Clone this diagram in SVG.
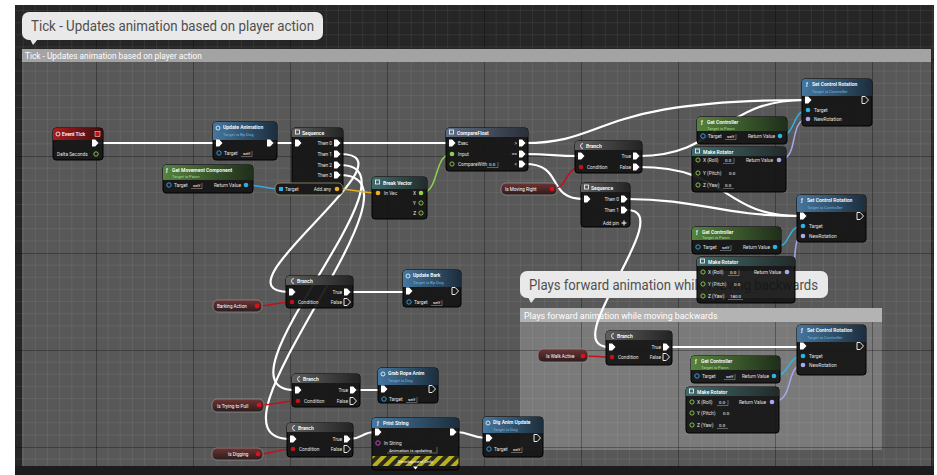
<svg xmlns="http://www.w3.org/2000/svg" xmlns:xlink="http://www.w3.org/1999/xlink" width="937" height="475" viewBox="0 0 937 475">
<defs>
<style>
.body{fill:#141414;fill-opacity:.93;stroke:#000;stroke-width:1}
.t{font-family:Roboto,'Liberation Sans',sans-serif;font-size:5px;font-weight:600;fill:#fff}
.s{font-family:Roboto,'Liberation Sans',sans-serif;font-size:4.2px;fill:#7fb0d8}
.sg{font-family:Roboto,'Liberation Sans',sans-serif;font-size:4.2px;fill:#a8d890}
.p{font-family:Roboto,'Liberation Sans',sans-serif;font-size:4.8px;fill:#e2e2e2}
.e{text-anchor:end}
.v{font-family:Roboto,'Liberation Sans',sans-serif;font-size:4.4px;fill:#fff}
.vb{fill:none;stroke:#aaa;stroke-width:.5}
.ef{fill:#fff}
.eo{fill:none;stroke:#fff;stroke-width:.9}
.w{fill:none;stroke:#fff;stroke-width:2.2;stroke-linecap:round}
.d{fill:none;stroke-width:1.5}
.ic{fill:none;stroke:#fff;stroke-width:.8}
.pill{fill:url(#gVar);stroke:#8e8e8e;stroke-width:.8}
.pt{font-family:Roboto,'Liberation Sans',sans-serif;font-size:4.6px;fill:#fff}
.ct{font-family:Roboto,'Liberation Sans',sans-serif;fill:#fff}
.bt{font-family:Roboto,'Liberation Sans',sans-serif;fill:#4f4f4f}
</style>
<path id="ex" d="M-3,-3.5h3.2l3.3,3.5l-3.3,3.5h-3.2z"/>
<linearGradient id="gRed" x1="0" x2="1"><stop offset="0" stop-color="#a81e1e"/><stop offset="1" stop-color="#3a0c0c"/></linearGradient>
<linearGradient id="gBlue" x1="0" x2="1"><stop offset="0" stop-color="#4477a0"/><stop offset="1" stop-color="#1c2d3c"/></linearGradient>
<linearGradient id="gGreen" x1="0" x2="1"><stop offset="0" stop-color="#55833e"/><stop offset="1" stop-color="#1f2e1a"/></linearGradient>
<linearGradient id="gGray" x1="0" x2="1"><stop offset="0" stop-color="#5e5e5e"/><stop offset="1" stop-color="#232323"/></linearGradient>
<linearGradient id="gTeal" x1="0" x2="1"><stop offset="0" stop-color="#3f6a6a"/><stop offset="1" stop-color="#222a2a"/></linearGradient>
<linearGradient id="gCmp" x1="0" x2="1"><stop offset="0" stop-color="#5d6d85"/><stop offset="1" stop-color="#2a2f38"/></linearGradient>
<linearGradient id="gVar" x1="0" x2="0" y1="0" y2="1"><stop offset="0" stop-color="#6e3434"/><stop offset="1" stop-color="#2a1c1c"/></linearGradient>
<pattern id="grid" x="96" y="59" width="97" height="97" patternUnits="userSpaceOnUse">
<path d="M12.125,0V97M24.25,0V97M36.375,0V97M48.5,0V97M60.625,0V97M72.75,0V97M84.875,0V97M0,12.125H97M0,24.25H97M0,36.375H97M0,48.5H97M0,60.625H97M0,72.75H97M0,84.875H97" stroke="#fff" stroke-opacity=".06" stroke-width="1"/>
<path d="M0.5,0V97M0,0.5H97" stroke="#000" stroke-opacity=".3" stroke-width="1"/>
</pattern>
<pattern id="stripe" width="8" height="8" patternUnits="userSpaceOnUse" patternTransform="rotate(45)">
<rect width="8" height="8" fill="#2a2a1a"/><rect width="4" height="8" fill="#b8b020"/>
</pattern>
</defs>

<g id="canvas">
<rect width="937" height="475" fill="#fff"/>
<rect x="15" y="5" width="919" height="470" fill="#262626"/>
<rect x="22" y="49" width="909" height="417" fill="#585858"/>
<rect x="520" y="308" width="362" height="142" fill="#7a7a7a"/>
<rect x="15" y="5" width="919" height="470" fill="url(#grid)"/>
<rect x="15" y="466" width="919" height="9" fill="#1c1c1c"/>
</g>

<g id="comment-tick">
<rect x="22" y="49" width="909" height="13" fill="#a3a3a3"/>
<text x="25" y="58.5" class="ct" font-size="8.3">Tick - Updates animation based on player action</text>
<path d="M30,39 L38,39 L33,45Z" fill="#e9e9e9"/>
<rect x="22" y="12" width="301" height="28" rx="7" fill="#e9e9e9"/>
<text x="31" y="31" class="bt" font-size="15" textLength="283" lengthAdjust="spacingAndGlyphs">Tick - Updates animation based on player action</text>
</g>

<g id="comment-backwards-box">
<rect x="520" y="308" width="362" height="14" fill="#b3b3b3"/>
<text x="524" y="318.5" class="ct" font-size="8.8">Plays forward animation while moving backwards</text>
</g>

<g id="connectors">
<path class="w" d="M98,143H216"/>
<path class="w" d="M273,143H295"/>
<path class="w" d="M340,143H449"/>
<path class="w" d="M525,143C610,143 590,100 805,100"/>
<path class="w" d="M525,154C550,154 555,156 578,156"/>
<path class="w" d="M525,164C565,164 545,199 584,199"/>
<path class="w" d="M639,156C720,156 720,100 805,100"/>
<path class="w" d="M639,167C730,167 720,216 800,216"/>
<path class="w" d="M627,199C700,199 720,216 800,216"/>
<path class="w" d="M627,210C680,210 555,347 609,347"/>
<path class="w" d="M340,154C420,154 209,292 289,292"/>
<path class="w" d="M340,165C430,165 205,390 295,390"/>
<path class="w" d="M340,175C440,175 190,439 290,439"/>
<path class="w" d="M350,292H406"/>
<path class="w" d="M356,390H381"/>
<path class="w" d="M350,439C362,439 362,432 375,432"/>
<path class="w" d="M456,432C470,432 472,438 486,438"/>
<path class="w" d="M669,347H800"/>
<path class="d" stroke="#35a9e6" d="M246,185C262,185 265,189 281,189"/>
<path class="d" stroke="#e8b020" d="M337,189C355,189 360,193 378,193"/>
<path class="d" stroke="#8ed14a" d="M421,193C440,193 433,154 452,154"/>
<path class="d" stroke="#c0121b" d="M552,189C568,189 565,167 581,167"/>
<path class="d" stroke="#c0121b" d="M257,306C275,306 274,302 292,302"/>
<path class="d" stroke="#c0121b" d="M259,405C278,405 279,401 298,401"/>
<path class="d" stroke="#c0121b" d="M258,454C276,454 275,449 293,449"/>
<path class="d" stroke="#c0121b" d="M583,356C597,356 598,357 612,357"/>
<path class="d" stroke="#2cb4e4" d="M780,136C796,136 792,110 808,110"/>
<path class="d" stroke="#a8a8f0" d="M779,160C800,160 788,119 808,119"/>
<path class="d" stroke="#2cb4e4" d="M775,247C792,247 786,226 803,226"/>
<path class="d" stroke="#a8a8f0" d="M787,272C800,272 790,236 803,236"/>
<path class="d" stroke="#2cb4e4" d="M774,376C790,376 787,356 803,356"/>
<path class="d" stroke="#a8a8f0" d="M772,402C795,402 785,365 803,365"/>
</g>

<g id="comment-backwards-bubble">
<path d="M528,297 L536,297 L531,303Z" fill="#e9e9e9"/>
<rect x="520" y="271" width="308" height="27" rx="7" fill="#e9e9e9"/>
<text x="529" y="290" class="bt" font-size="14" textLength="289" lengthAdjust="spacingAndGlyphs">Plays forward animation while moving backwards</text>
</g>

<g id="n-event-tick">
<rect x="53" y="128" width="50" height="32" rx="3" class="body"/>
<path d="M53,140V131Q53,128 56,128H100Q103,128 103,131V140Z" fill="url(#gRed)"/>
<circle cx="58" cy="134" r="2" class="ic"/>
<text x="62" y="136" class="t">Event Tick</text>
<rect x="95" y="131.5" width="5" height="5" fill="#c01010" stroke="#fff" stroke-width=".5"/>
<use href="#ex" x="95" y="143" class="ef"/>
<text x="57" y="156" class="p">Delta Seconds</text>
<circle cx="96" cy="154" r="2.2" fill="none" stroke="#8ed14a" stroke-width=".9"/>
</g>

<g id="n-update-animation">
<rect x="213" y="122" width="64" height="38" rx="3" class="body"/>
<path d="M213,140V125Q213,122 216,122H274Q277,122 277,125V140Z" fill="url(#gBlue)"/>
<circle cx="218" cy="128" r="2" class="ic"/>
<text x="223" y="129" class="t">Update Animation</text>
<text x="223" y="136" class="s">Target is Bp Dog</text>
<use href="#ex" x="219" y="143" class="ef"/>
<use href="#ex" x="270" y="143" class="ef"/>
<circle cx="219" cy="153" r="2.2" fill="none" stroke="#35a9e6" stroke-width=".9"/>
<text x="224" y="155" class="p">Target</text>
<text x="243" y="155" class="v">self</text><path class="vb" d="M241,156.5H252V151"/>
</g>

<g id="n-sequence-1">
<rect x="292" y="128" width="51" height="62" rx="3" class="body"/>
<path d="M292,137V131Q292,128 295,128H340Q343,128 343,131V137Z" fill="url(#gGray)"/>
<rect x="295.5" y="130" width="4" height="4" class="ic"/>
<text x="302" y="134.5" class="t">Sequence</text>
<use href="#ex" x="298" y="143" class="ef"/>
<text x="332" y="145" class="p e">Then 0</text><use href="#ex" x="337" y="143" class="ef"/>
<text x="332" y="156" class="p e">Then 1</text><use href="#ex" x="337" y="154" class="ef"/>
<text x="332" y="167" class="p e">Then 2</text><use href="#ex" x="337" y="165" class="ef"/>
<text x="332" y="177" class="p e">Then 3</text><use href="#ex" x="337" y="175" class="ef"/>
</g>

<g id="n-get-movement-component">
<rect x="163" y="165" width="90" height="28" rx="3" class="body"/>
<path d="M163,180V168Q163,165 166,165H250Q253,165 253,168V180Z" fill="url(#gGreen)"/>
<text x="166" y="171.5" class="t">ƒ</text>
<text x="172" y="171.5" class="t">Get Movement Component</text>
<text x="172" y="177.5" class="sg">Target is Pawn</text>
<circle cx="169" cy="185" r="2.2" fill="none" stroke="#35a9e6" stroke-width=".9"/>
<text x="174" y="187" class="p">Target</text>
<text x="193" y="187" class="v">self</text><path class="vb" d="M191,188.5H202V183"/>
<text x="241" y="187" class="p e">Return Value</text>
<circle cx="246" cy="185" r="2.3" fill="#35a9e6"/>
</g>

<g id="n-get-velocity">
<rect x="275" y="183" width="68" height="12" rx="5" fill="#1a1a1a" stroke="#9a9070" stroke-width=".8"/>
<rect x="279" y="187" width="4" height="4" fill="#35a9e6"/>
<text x="285" y="191" class="p">Target</text>
<text x="331" y="191" class="p e">Add.any</text>
<circle cx="337" cy="189" r="2.3" fill="#e8b020"/>
</g>

<g id="n-break-vector">
<rect x="372" y="177" width="55" height="42" rx="3" class="body"/>
<path d="M372,189V180Q372,177 375,177H424Q427,177 427,180V189Z" fill="url(#gTeal)"/>
<rect x="375.5" y="180" width="4" height="4" class="ic"/>
<text x="383" y="185" class="t">Break Vector</text>
<circle cx="378" cy="193" r="2.3" fill="#e8b020"/>
<text x="384" y="195" class="p">In Vec</text>
<text x="416" y="195" class="p e">X</text><circle cx="421" cy="193" r="2.3" fill="#8ed14a"/>
<text x="416" y="205" class="p e">Y</text><circle cx="421" cy="203" r="2.1" fill="none" stroke="#8ed14a" stroke-width=".9"/>
<text x="416" y="215" class="p e">Z</text><circle cx="421" cy="213" r="2.1" fill="none" stroke="#8ed14a" stroke-width=".9"/>
</g>

<g id="n-compare-float">
<rect x="446" y="128" width="82" height="43" rx="3" class="body"/>
<path d="M446,137V131Q446,128 449,128H525Q528,128 528,131V137Z" fill="url(#gCmp)"/>
<rect x="449.5" y="130" width="4" height="4" class="ic"/>
<text x="457" y="134.5" class="t">CompareFloat</text>
<use href="#ex" x="452" y="143" class="ef"/><text x="458" y="145" class="p">Exec</text>
<circle cx="452" cy="154" r="2.3" fill="#8ed14a"/><text x="458" y="156" class="p">Input</text>
<circle cx="452" cy="164" r="2.1" fill="none" stroke="#8ed14a" stroke-width=".9"/><text x="458" y="166" class="p">CompareWith</text>
<text x="489" y="166" class="v">0.0</text><path class="vb" d="M487,167.5H498V162"/>
<text x="517" y="145" class="p e">&gt;</text><use href="#ex" x="522" y="143" class="ef"/>
<text x="517" y="156" class="p e">==</text><use href="#ex" x="522" y="154" class="ef"/>
<text x="517" y="166" class="p e">&lt;</text><use href="#ex" x="522" y="164" class="ef"/>
</g>

<g id="n-branch-moving-right">
<rect x="575" y="141" width="67" height="32" rx="3" class="body"/>
<path d="M575,150V144Q575,141 578,141H639Q642,141 642,144V150Z" fill="url(#gGray)"/>
<path d="M583,143.5A2.5,2.5 0 1 0 583,148.5" class="ic"/>
<text x="586" y="147.5" class="t">Branch</text>
<use href="#ex" x="581" y="156" class="ef"/>
<circle cx="581" cy="167" r="2.3" fill="#c0121b"/><text x="587" y="169" class="p">Condition</text>
<text x="631" y="158" class="p e">True</text><use href="#ex" x="636" y="156" class="ef"/>
<text x="631" y="169" class="p e">False</text><use href="#ex" x="636" y="167" class="ef"/>
</g>

<g id="n-is-moving-right">
<rect x="501" y="183" width="56" height="12" rx="5" class="pill"/>
<text x="505" y="191" class="pt">Is Moving Right</text>
<circle cx="552" cy="189" r="2.3" fill="#e0101b"/>
</g>

<g id="n-sequence-2">
<rect x="581" y="183" width="49" height="44" rx="3" class="body"/>
<path d="M581,192V186Q581,183 584,183H627Q630,183 630,186V192Z" fill="url(#gGray)"/>
<rect x="584.5" y="185" width="4" height="4" class="ic"/>
<text x="591" y="189.5" class="t">Sequence</text>
<use href="#ex" x="587" y="199" class="ef"/>
<text x="619" y="201" class="p e">Then 0</text><use href="#ex" x="624" y="199" class="ef"/>
<text x="619" y="212" class="p e">Then 1</text><use href="#ex" x="624" y="210" class="ef"/>
<text x="619" y="225" class="p e">Add pin</text>
<path d="M621.5,223H626.5M624,220.5V225.5" stroke="#fff" stroke-width="1"/>
</g>

<g id="n-set-control-rotation-1">
<rect x="802" y="79" width="70" height="47" rx="3" class="body"/>
<path d="M802,96V82Q802,79 805,79H869Q872,79 872,82V96Z" fill="url(#gBlue)"/>
<text x="806" y="86" class="t">ƒ</text>
<text x="812" y="86" class="t">Set Control Rotation</text>
<text x="812" y="92.5" class="s">Target is Controller</text>
<use href="#ex" x="808" y="100" class="ef"/>
<use href="#ex" x="865" y="100" class="eo"/>
<circle cx="808" cy="110" r="2.3" fill="#2cb4e4"/><text x="814" y="112" class="p">Target</text>
<circle cx="808" cy="119" r="2.3" fill="#a8a8f0"/><text x="814" y="121" class="p">NewRotation</text>
</g>

<g id="n-get-controller-1">
<rect x="697" y="117" width="90" height="27" rx="3" class="body"/>
<path d="M697,131V120Q697,117 700,117H784Q787,117 787,120V131Z" fill="url(#gGreen)"/>
<text x="701" y="123.5" class="t">ƒ</text>
<text x="707" y="123.5" class="t">Get Controller</text>
<text x="707" y="129.5" class="sg">Target is Pawn</text>
<circle cx="703" cy="136" r="2.2" fill="none" stroke="#35a9e6" stroke-width=".9"/>
<text x="708" y="138" class="p">Target</text>
<text x="727" y="138" class="v">self</text><path class="vb" d="M725,139.5H736V134"/>
<text x="775" y="138" class="p e">Return Value</text>
<circle cx="780" cy="136" r="2.3" fill="#2cb4e4"/>
</g>

<g id="n-make-rotator-1">
<rect x="692" y="147" width="94" height="45" rx="3" class="body"/>
<path d="M692,156V150Q692,147 695,147H783Q786,147 786,150V156Z" fill="url(#gTeal)"/>
<rect x="695.5" y="149" width="4" height="4" class="ic"/>
<text x="703" y="153.5" class="t">Make Rotator</text>
<circle cx="698" cy="160" r="2.1" fill="none" stroke="#8ed14a" stroke-width=".9"/><text x="703" y="162" class="p">X (Roll)</text>
<text x="725" y="162" class="v">0.0</text><path class="vb" d="M723,163.5H734V158"/>
<circle cx="698" cy="173" r="2.1" fill="none" stroke="#8ed14a" stroke-width=".9"/><text x="703" y="175" class="p">Y (Pitch)</text>
<text x="729" y="175" class="v">0.0</text>
<circle cx="698" cy="185" r="2.1" fill="none" stroke="#8ed14a" stroke-width=".9"/><text x="703" y="187" class="p">Z (Yaw)</text>
<text x="725" y="187" class="v">0.0</text><path class="vb" d="M723,188.5H734"/>
<text x="773" y="162" class="p e">Return Value</text>
<circle cx="779" cy="160" r="2.3" fill="#a8a8f0"/>
</g>

<g id="n-set-control-rotation-2">
<rect x="797" y="195" width="69" height="47" rx="3" class="body"/>
<path d="M797,212V198Q797,195 800,195H863Q866,195 866,198V212Z" fill="url(#gBlue)"/>
<text x="801" y="202" class="t">ƒ</text>
<text x="807" y="202" class="t">Set Control Rotation</text>
<text x="807" y="208.5" class="s">Target is Controller</text>
<use href="#ex" x="803" y="216" class="ef"/>
<use href="#ex" x="860" y="216" class="eo"/>
<circle cx="803" cy="226" r="2.3" fill="#2cb4e4"/><text x="809" y="228" class="p">Target</text>
<circle cx="803" cy="236" r="2.3" fill="#a8a8f0"/><text x="809" y="238" class="p">NewRotation</text>
</g>

<g id="n-get-controller-2">
<rect x="692" y="227" width="89" height="27" rx="3" class="body"/>
<path d="M692,240V230Q692,227 695,227H778Q781,227 781,230V240Z" fill="url(#gGreen)"/>
<text x="696" y="233.5" class="t">ƒ</text>
<text x="702" y="233.5" class="t">Get Controller</text>
<text x="702" y="239" class="sg">Target is Pawn</text>
<circle cx="698" cy="247" r="2.2" fill="none" stroke="#35a9e6" stroke-width=".9"/>
<text x="703" y="249" class="p">Target</text>
<text x="722" y="249" class="v">self</text><path class="vb" d="M720,250.5H731V245"/>
<text x="770" y="249" class="p e">Return Value</text>
<circle cx="775" cy="247" r="2.3" fill="#2cb4e4"/>
</g>

<g id="n-make-rotator-2">
<rect x="697" y="257" width="98" height="46" rx="3" class="body"/>
<path d="M697,266V260Q697,257 700,257H792Q795,257 795,260V266Z" fill="url(#gTeal)"/>
<rect x="700.5" y="259" width="4" height="4" class="ic"/>
<text x="708" y="263.5" class="t">Make Rotator</text>
<circle cx="703" cy="272" r="2.1" fill="none" stroke="#8ed14a" stroke-width=".9"/><text x="708" y="274" class="p">X (Roll)</text>
<text x="730" y="274" class="v">0.0</text><path class="vb" d="M728,275.5H739V270"/>
<circle cx="703" cy="284" r="2.1" fill="none" stroke="#8ed14a" stroke-width=".9"/><text x="708" y="286" class="p">Y (Pitch)</text>
<text x="734" y="286" class="v">0.0</text>
<circle cx="703" cy="296" r="2.1" fill="none" stroke="#8ed14a" stroke-width=".9"/><text x="708" y="298" class="p">Z (Yaw)</text>
<text x="730" y="298" class="v">180.0</text><path class="vb" d="M728,299.5H743"/>
<text x="781" y="274" class="p e">Return Value</text>
<circle cx="787" cy="272" r="2.3" fill="#a8a8f0"/>
</g>

<g id="n-branch-barking">
<rect x="286" y="276" width="67" height="32" rx="3" class="body"/>
<path d="M286,285V279Q286,276 289,276H350Q353,276 353,279V285Z" fill="url(#gGray)"/>
<path d="M294,278.5A2.5,2.5 0 1 0 294,283.5" class="ic"/>
<text x="297" y="282.5" class="t">Branch</text>
<use href="#ex" x="292" y="292" class="ef"/>
<circle cx="292" cy="302" r="2.3" fill="#c0121b"/><text x="298" y="304" class="p">Condition</text>
<text x="342" y="294" class="p e">True</text><use href="#ex" x="347" y="292" class="ef"/>
<text x="342" y="304" class="p e">False</text><use href="#ex" x="347" y="302" class="eo"/>
</g>

<g id="n-barking-action">
<rect x="213" y="300" width="49" height="12" rx="5" class="pill"/>
<text x="217" y="308" class="pt">Barking Action</text>
<circle cx="257" cy="306" r="2.3" fill="#e0101b"/>
</g>

<g id="n-update-bark">
<rect x="403" y="270" width="58" height="37" rx="3" class="body"/>
<path d="M403,287V273Q403,270 406,270H458Q461,270 461,273V287Z" fill="url(#gBlue)"/>
<circle cx="408" cy="276" r="2" class="ic"/>
<text x="413" y="277" class="t">Update Bark</text>
<text x="413" y="283.5" class="s">Target is Bp Dog</text>
<use href="#ex" x="409" y="291" class="ef"/>
<use href="#ex" x="455" y="291" class="eo"/>
<circle cx="409" cy="302" r="2.2" fill="none" stroke="#35a9e6" stroke-width=".9"/>
<text x="414" y="304" class="p">Target</text>
<text x="433" y="304" class="v">self</text><path class="vb" d="M431,305.5H442V300"/>
</g>

<g id="n-branch-pull">
<rect x="292" y="374" width="68" height="33" rx="3" class="body"/>
<path d="M292,383V377Q292,374 295,374H357Q360,374 360,377V383Z" fill="url(#gGray)"/>
<path d="M300,376.5A2.5,2.5 0 1 0 300,381.5" class="ic"/>
<text x="303" y="380.5" class="t">Branch</text>
<use href="#ex" x="298" y="390" class="ef"/>
<circle cx="298" cy="401" r="2.3" fill="#c0121b"/><text x="304" y="403" class="p">Condition</text>
<text x="348" y="392" class="p e">True</text><use href="#ex" x="353" y="390" class="ef"/>
<text x="348" y="403" class="p e">False</text><use href="#ex" x="353" y="401" class="eo"/>
</g>

<g id="n-is-trying-to-pull">
<rect x="212" y="399" width="52" height="13" rx="5" class="pill"/>
<text x="217" y="407.5" class="pt">Is Trying to Pull</text>
<circle cx="259" cy="405" r="2.3" fill="#e0101b"/>
</g>

<g id="n-grab-rope-anim">
<rect x="378" y="368" width="60" height="35" rx="3" class="body"/>
<path d="M378,385V371Q378,368 381,368H435Q438,368 438,371V385Z" fill="url(#gBlue)"/>
<circle cx="383" cy="374" r="2" class="ic"/>
<text x="388" y="375" class="t">Grab Rope Anim</text>
<text x="388" y="381.5" class="s">Target is Dog</text>
<use href="#ex" x="384" y="389" class="ef"/>
<use href="#ex" x="432" y="389" class="eo"/>
<circle cx="384" cy="399" r="2.2" fill="none" stroke="#35a9e6" stroke-width=".9"/>
<text x="389" y="401" class="p">Target</text>
<text x="408" y="401" class="v">self</text><path class="vb" d="M406,402.5H417V397"/>
</g>

<g id="n-branch-dig">
<rect x="287" y="423" width="66" height="34" rx="3" class="body"/>
<path d="M287,432V426Q287,423 290,423H350Q353,423 353,426V432Z" fill="url(#gGray)"/>
<path d="M295,425.5A2.5,2.5 0 1 0 295,430.5" class="ic"/>
<text x="298" y="429.5" class="t">Branch</text>
<use href="#ex" x="293" y="439" class="ef"/>
<circle cx="293" cy="449" r="2.3" fill="#c0121b"/><text x="299" y="451" class="p">Condition</text>
<text x="342" y="441" class="p e">True</text><use href="#ex" x="347" y="439" class="ef"/>
<text x="342" y="451" class="p e">False</text><use href="#ex" x="347" y="449" class="eo"/>
</g>

<g id="n-is-digging">
<rect x="212" y="448" width="51" height="12" rx="5" class="pill"/>
<text x="228" y="456" class="pt">Is Digging</text>
<circle cx="258" cy="454" r="2.3" fill="#e0101b"/>
</g>

<g id="n-print-string">
<rect x="372" y="418" width="87" height="52" rx="3" class="body"/>
<path d="M372,428V421Q372,418 375,418H456Q459,418 459,421V428Z" fill="url(#gBlue)"/>
<text x="377" y="424.5" class="t">ƒ</text>
<text x="383" y="424.5" class="t">Print String</text>
<use href="#ex" x="378" y="432" class="ef"/>
<use href="#ex" x="453" y="432" class="ef"/>
<circle cx="378" cy="443" r="2.2" fill="none" stroke="#e040e0" stroke-width=".9"/>
<text x="384" y="445" class="p">In String</text>
<text x="389" y="451.5" class="v">Animation is updating</text><path class="vb" d="M387,453H437V447"/>
<rect x="372.5" y="456" width="86" height="10" fill="url(#stripe)"/>
<text x="415.5" y="463" class="v" text-anchor="middle">Development Only</text>
<path d="M413,466.5H418L415.5,469.5Z" fill="#fff"/>
</g>

<g id="n-dig-anim-update">
<rect x="483" y="417" width="60" height="40" rx="3" class="body"/>
<path d="M483,433V420Q483,417 486,417H540Q543,417 543,420V433Z" fill="url(#gBlue)"/>
<circle cx="488" cy="423" r="2" class="ic"/>
<text x="493" y="424" class="t">Dig Anim Update</text>
<text x="493" y="430.5" class="s">Target is Dog</text>
<use href="#ex" x="489" y="438" class="ef"/>
<use href="#ex" x="537" y="438" class="eo"/>
<circle cx="489" cy="449" r="2.2" fill="none" stroke="#35a9e6" stroke-width=".9"/>
<text x="494" y="451" class="p">Target</text>
<text x="513" y="451" class="v">self</text><path class="vb" d="M511,452.5H522V447"/>
</g>

<g id="n-branch-walk">
<rect x="606" y="331" width="66" height="34" rx="3" class="body"/>
<path d="M606,340V334Q606,331 609,331H669Q672,331 672,334V340Z" fill="url(#gGray)"/>
<path d="M614,333.5A2.5,2.5 0 1 0 614,338.5" class="ic"/>
<text x="617" y="337.5" class="t">Branch</text>
<use href="#ex" x="612" y="347" class="ef"/>
<circle cx="612" cy="357" r="2.3" fill="#c0121b"/><text x="618" y="359" class="p">Condition</text>
<text x="661" y="349" class="p e">True</text><use href="#ex" x="666" y="347" class="ef"/>
<text x="661" y="359" class="p e">False</text><use href="#ex" x="666" y="357" class="eo"/>
</g>

<g id="n-is-walk-active">
<rect x="538" y="349" width="50" height="13" rx="5" class="pill"/>
<text x="546" y="357.5" class="pt">Is Walk Active</text>
<circle cx="583" cy="356" r="2.3" fill="#e0101b"/>
</g>

<g id="n-set-control-rotation-3">
<rect x="797" y="325" width="69" height="50" rx="3" class="body"/>
<path d="M797,342V328Q797,325 800,325H863Q866,325 866,328V342Z" fill="url(#gBlue)"/>
<text x="801" y="332" class="t">ƒ</text>
<text x="807" y="332" class="t">Set Control Rotation</text>
<text x="807" y="338.5" class="s">Target is Controller</text>
<use href="#ex" x="803" y="346" class="ef"/>
<use href="#ex" x="860" y="346" class="eo"/>
<circle cx="803" cy="356" r="2.3" fill="#2cb4e4"/><text x="809" y="358" class="p">Target</text>
<circle cx="803" cy="365" r="2.3" fill="#a8a8f0"/><text x="809" y="367" class="p">NewRotation</text>
</g>

<g id="n-get-controller-3">
<rect x="691" y="356" width="89" height="27" rx="3" class="body"/>
<path d="M691,370V359Q691,356 694,356H777Q780,356 780,359V370Z" fill="url(#gGreen)"/>
<text x="695" y="362.5" class="t">ƒ</text>
<text x="701" y="362.5" class="t">Get Controller</text>
<text x="701" y="368.5" class="sg">Target is Pawn</text>
<circle cx="697" cy="376" r="2.2" fill="none" stroke="#35a9e6" stroke-width=".9"/>
<text x="702" y="378" class="p">Target</text>
<text x="726" y="378" class="v">self</text><path class="vb" d="M724,379.5H735V374"/>
<text x="769" y="378" class="p e">Return Value</text>
<circle cx="774" cy="376" r="2.3" fill="#2cb4e4"/>
</g>

<g id="n-make-rotator-3">
<rect x="686" y="387" width="93" height="46" rx="3" class="body"/>
<path d="M686,396V390Q686,387 689,387H776Q779,387 779,390V396Z" fill="url(#gTeal)"/>
<rect x="689.5" y="389" width="4" height="4" class="ic"/>
<text x="697" y="393.5" class="t">Make Rotator</text>
<circle cx="692" cy="402" r="2.1" fill="none" stroke="#8ed14a" stroke-width=".9"/><text x="697" y="404" class="p">X (Roll)</text>
<text x="719" y="404" class="v">0.0</text><path class="vb" d="M717,405.5H728V400"/>
<circle cx="692" cy="413" r="2.1" fill="none" stroke="#8ed14a" stroke-width=".9"/><text x="697" y="415" class="p">Y (Pitch)</text>
<text x="723" y="415" class="v">0.0</text>
<circle cx="692" cy="425" r="2.1" fill="none" stroke="#8ed14a" stroke-width=".9"/><text x="697" y="427" class="p">Z (Yaw)</text>
<text x="719" y="427" class="v">0.0</text><path class="vb" d="M717,428.5H728"/>
<text x="766" y="404" class="p e">Return Value</text>
<circle cx="772" cy="402" r="2.3" fill="#a8a8f0"/>
</g>
</svg>
